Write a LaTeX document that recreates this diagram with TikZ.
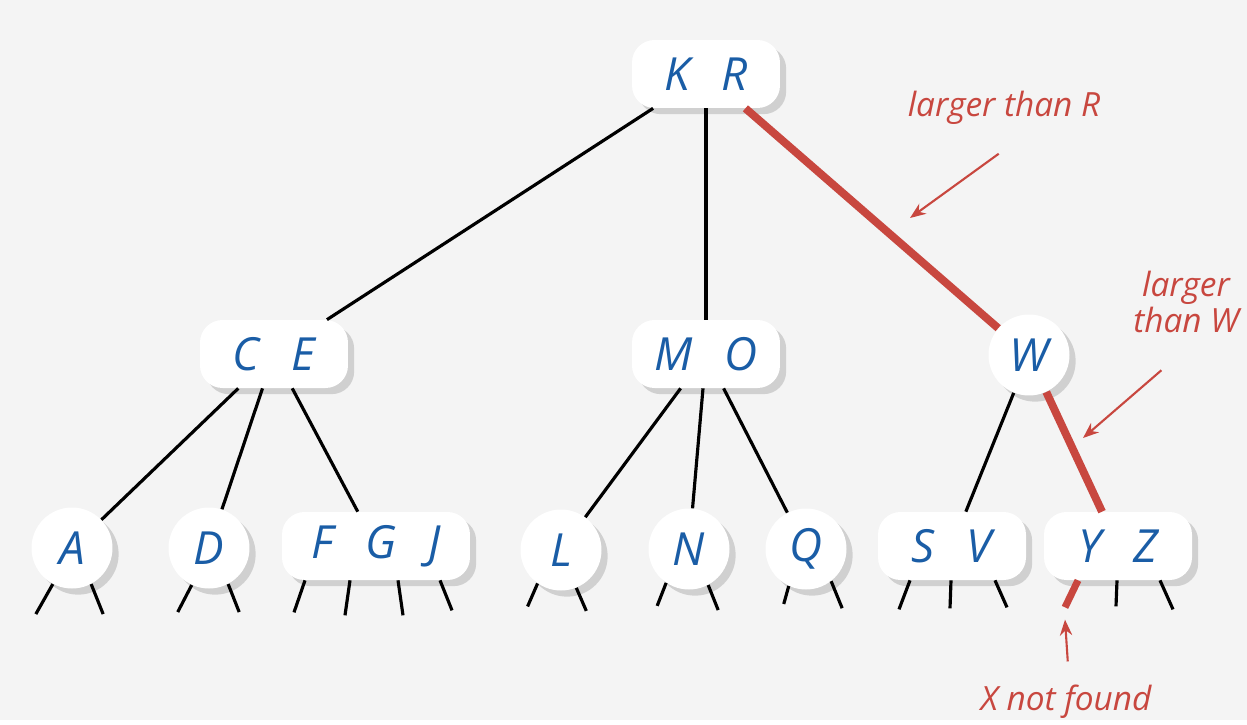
\documentclass[tikz,border=0pt]{standalone}
\usepackage{fontspec}
\setmainfont{Open Sans}
\usetikzlibrary{shadows, arrows.meta}
\definecolor{bgcol}{HTML}{F4F4F4}
\definecolor{keyblue}{HTML}{1A5DA6}
\definecolor{pathred}{HTML}{C8473F}

\tikzset{
  keyfont/.style={font=\fontsize{26}{26}\selectfont\itshape, text=keyblue},
  keyshadow/.style={drop shadow={shadow xshift=3.5pt, shadow yshift=-3.5pt, opacity=0.3}},
  twonode/.style={keyfont, keyshadow, rectangle, rounded corners=0.45cm, fill=white,
    minimum width=2.96cm, minimum height=1.36cm, inner sep=0pt},
  onenode/.style={keyfont, keyshadow, circle, fill=white, minimum size=1.62cm, inner sep=0pt},
  link/.style={black, line width=1.8pt},
  hit/.style={pathred, line width=4.5pt},
  note/.style={pathred, font=\fontsize{19}{17}\selectfont\itshape},
  pointer/.style={pathred, line width=1.2pt, -{Stealth[length=9pt, width=7pt]}}
}

\begin{document}
\begin{tikzpicture}[x=0.02cm, y=-0.02cm]
  \fill[bgcol] (0,0) rectangle (1247,720);

  \node[twonode] (KR) at (706,74) {K\hspace{0.7em}R};
  \node[twonode] (CE) at (274,354) {C\hspace{0.7em}E};
  \node[twonode] (MO) at (706,354) {M\hspace{0.7em}O};
  \node[onenode] (W) at (1029,355) {W};
  \node[onenode] (A) at (72,548) {A};
  \node[onenode] (D) at (209,548) {D};
  \node[twonode, minimum width=3.76cm] (FGJ) at (376,546) {F\hspace{0.7em}G\hspace{0.7em}J};
  \node[onenode] (L) at (561,550) {L};
  \node[onenode] (N) at (689,549) {N};
  \node[onenode] (Q) at (806,549) {Q};
  \node[twonode] (SV) at (952,546) {S\hspace{0.7em}V};
  \node[twonode] (YZ) at (1118,546) {Y\hspace{0.7em}Z};

  \draw[link] (KR) -- (CE);
  \draw[link] (KR) -- (MO);
  \draw[hit] (KR) -- (W);
  \draw[link] (CE) -- (A);
  \draw[link] (CE) -- (D);
  \draw[link] (CE) -- (FGJ);
  \draw[link] (MO) -- (L);
  \draw[link] (MO) -- (N);
  \draw[link] (MO) -- (Q);
  \draw[link] (W) -- (SV);
  \draw[hit] (W) -- (YZ);

  \foreach \nd/\ang/\ex/\ey in {A/-118/-17/30, A/-62/12/30, D/-115/-14/27, D/-62/11/28,
      L/-125/-10/23, L/-68/10/23, N/-124/-9/23, N/-62/10/25, Q/-115/-5/18, Q/-52/11/27}
    \draw[link] (\nd.\ang) -- ++(\ex,\ey);
  \foreach \nd/\dx/\ex/\ey in {FGJ/-71/-11/32, FGJ/-26/-5/35, FGJ/22/5/35, FGJ/64/12/30,
      SV/-42/-11/29, SV/-1/-1/28, SV/43/12/27, YZ/-1/-1/26, YZ/42/13/29}
    \draw[link] (\nd.south) ++(\dx,0) -- ++(\ex,\ey);
  \draw[hit, line width=4pt] (YZ.south) ++(-40,0) -- ++(-13,27) coordinate (miss);

  \node[note] (lR) at (1004,108) {larger than R};
  \node[note, align=center] (lW) at (1186,302) {larger\\than W};
  \node[note] (nf) at (1066,702) {X not found};
  \coordinate (lRtip) at (910,218);
  \coordinate (lWtip) at (1083,438);
  \draw[pointer] ([xshift=-3pt, yshift=-13pt]lR.south) -- (lRtip);
  \draw[pointer] ([xshift=-14pt, yshift=-18pt]lW.south) -- (lWtip);
  \draw[pointer] ([xshift=1pt, yshift=10pt]nf.north) -- ([yshift=-7pt]miss);
\end{tikzpicture}
\end{document}
